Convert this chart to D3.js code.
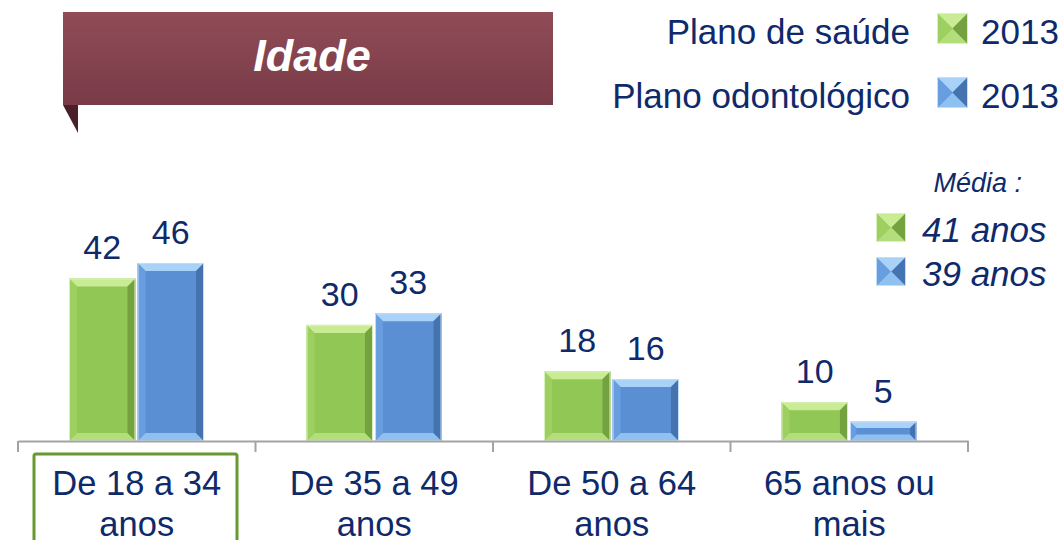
<!DOCTYPE html>
<html>
<head>
<meta charset="utf-8">
<script src="https://cdn.jsdelivr.net/npm/d3@7"></script>
<style>
  body { margin: 0; background: #fff; }
  svg { display: block; font-family: "Liberation Sans", Arial, sans-serif; }
</style>
</head>
<body>
<svg id="chart" width="1063" height="540"></svg>
<script>
const categories = [["De 18 a 34", "anos"], ["De 35 a 49", "anos"], ["De 50 a 64", "anos"], ["65 anos ou", "mais"]];
const seriesNames = ["Plano de saúde", "Plano odontológico"];
const saude = [42, 30, 18, 10];
const odonto = [46, 33, 16, 5];
const legendYear = "2013";
const averages = ["41 anos", "39 anos"];
const title = "Idade";

const palette = {
  "Plano de saúde": { main: "#91c755", top: "#c8eb93", bottom: "#b4de7b", left: "#9dd061", right: "#74a241", edge: "#d9f2bd" },
  "Plano odontológico": { main: "#5b8fd4", top: "#a8d2f8", bottom: "#8ec1f0", left: "#689ee0", right: "#4573b0", edge: "#c3def8" },
};
const navy = "#0f2a6b";

const svg = d3.select("#chart");

// bevelled box, like the office-style bars
function bevel(g, x, y, w, h, b, c) {
  g.append("rect").attr("x", x).attr("y", y).attr("width", w).attr("height", h).attr("fill", c.main);
  const faces = [
    [[x, y], [x + w, y], [x + w - b, y + b], [x + b, y + b], c.top],
    [[x, y + h], [x + w, y + h], [x + w - b, y + h - b], [x + b, y + h - b], c.bottom],
    [[x, y], [x + b, y + b], [x + b, y + h - b], [x, y + h], c.left],
    [[x + w, y], [x + w - b, y + b], [x + w - b, y + h - b], [x + w, y + h], c.right],
  ];
  faces.forEach((f) => {
    g.append("polygon").attr("points", f.slice(0, 4).map((p) => p.join(",")).join(" ")).attr("fill", f[4]);
  });
  g.append("rect").attr("x", x + 0.5).attr("y", y + 0.5).attr("width", w - 1).attr("height", Math.max(0, h - 1))
    .attr("fill", "none").attr("stroke", c.edge).attr("stroke-width", 1);
}

// title banner
const defs = svg.append("defs");
const grad = defs.append("linearGradient").attr("id", "banner").attr("x1", 0).attr("y1", 0).attr("x2", 0).attr("y2", 1);
grad.append("stop").attr("offset", "0%").attr("stop-color", "#904c57");
grad.append("stop").attr("offset", "100%").attr("stop-color", "#783b47");

svg.append("polygon").attr("points", "63,105 78,105 78,133").attr("fill", "#4a1f28");
svg.append("rect").attr("x", 63).attr("y", 12).attr("width", 490).attr("height", 93).attr("fill", "url(#banner)");
svg.append("text").attr("x", 312).attr("y", 71).attr("text-anchor", "middle")
  .attr("font-size", 45).attr("font-weight", "bold").attr("font-style", "italic").attr("fill", "#fff").text(title);

// scales
const baseline = 441;
const x0 = d3.scaleBand().domain(d3.range(categories.length)).range([18, 968]);
const x1 = d3.scaleBand().domain(seriesNames).range([51, 186]).paddingInner(0.03);
const y = d3.scaleLinear().domain([0, 50]).range([baseline, baseline - 193.5]);

const rows = categories.map((c, i) => ({ i, values: [{ key: seriesNames[0], v: saude[i] }, { key: seriesNames[1], v: odonto[i] }] }));

const groups = svg.selectAll(".grp").data(rows).join("g").attr("class", "grp")
  .attr("transform", (d) => `translate(${x0(d.i)},0)`);

groups.each(function (d) {
  const g = d3.select(this);
  d.values.forEach((s) => {
    const bx = x1(s.key), bw = x1.bandwidth(), by = y(s.v), bh = baseline - y(s.v);
    bevel(g.append("g"), bx, by, bw, bh, Math.min(8, bh / 3), palette[s.key]);
    g.append("text").attr("x", bx + bw / 2).attr("y", by - 19).attr("text-anchor", "middle")
      .attr("font-size", 34).attr("fill", navy).text(s.v);
  });
});

// axis
const axis = d3.axisBottom(x0).tickSize(0).tickFormat("");
const ax = svg.append("g").attr("transform", `translate(0,${baseline})`).call(axis);
ax.select(".domain").attr("stroke", "#a3a3a7").attr("stroke-width", 2);
svg.selectAll(".sep").data(d3.range(categories.length + 1)).join("line").attr("class", "sep")
  .attr("x1", (d) => 18 + d * x0.step()).attr("x2", (d) => 18 + d * x0.step())
  .attr("y1", baseline).attr("y2", baseline + 11).attr("stroke", "#a3a3a7").attr("stroke-width", 2);

// category labels
svg.selectAll(".cat").data(categories).join("text").attr("class", "cat")
  .attr("text-anchor", "middle").attr("font-size", 34.5).attr("fill", navy)
  .each(function (d, i) {
    const t = d3.select(this);
    const cx = x0(i) + x0.bandwidth() / 2;
    d.forEach((line, k) => t.append("tspan").attr("x", cx).attr("y", 495 + k * 41).text(line));
  });

// highlight box on first category
svg.append("rect").attr("x", 34).attr("y", 454).attr("width", 203).attr("height", 110).attr("rx", 2)
  .attr("fill", "none").attr("stroke", "#66992f").attr("stroke-width", 3);

// legend
const leg = svg.selectAll(".leg").data(seriesNames).join("g").attr("class", "leg")
  .attr("transform", (d, i) => `translate(0,${i * 64})`);
leg.append("text").attr("x", 910).attr("y", 44).attr("text-anchor", "end").attr("font-size", 35).attr("fill", navy).text((d) => d);
leg.each(function (d) { bevel(d3.select(this).append("g"), 937, 13, 31, 31, 15.5, palette[d]); });
leg.append("text").attr("x", 981).attr("y", 44).attr("font-size", 35).attr("fill", navy).text(legendYear);

// averages
svg.append("text").attr("x", 1022).attr("y", 192).attr("text-anchor", "end").attr("font-size", 27)
  .attr("font-style", "italic").attr("fill", navy).text("Média :");
const avg = svg.selectAll(".avg").data(averages).join("g").attr("class", "avg")
  .attr("transform", (d, i) => `translate(0,${i * 44})`);
avg.each(function (d, i) { bevel(d3.select(this).append("g"), 876, 213, 30, 29, 14.5, palette[seriesNames[i]]); });
avg.append("text").attr("x", 922).attr("y", 242).attr("font-size", 35).attr("font-style", "italic").attr("fill", navy).text((d) => d);
</script>
</body>
</html>
